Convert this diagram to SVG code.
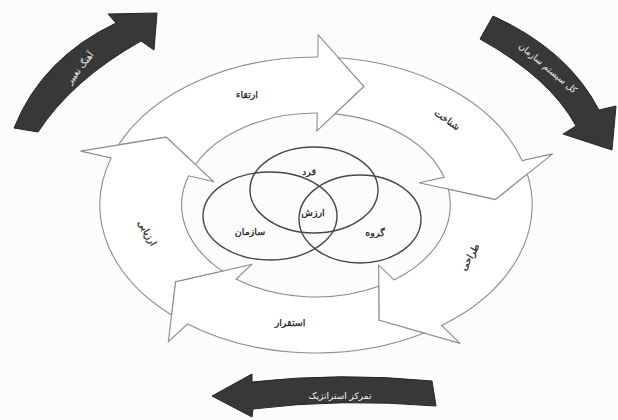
<svg xmlns="http://www.w3.org/2000/svg" width="618" height="420" viewBox="0 0 618 420">
<style>
.ring{fill:#fff;stroke:#8c8c8c;stroke-width:1.1;stroke-linejoin:miter}
.venn{fill:none;stroke:#474747;stroke-width:1.4}
.dark{fill:#383838;stroke:#262626;stroke-width:1}
.lbl{font-family:"DejaVu Sans","Noto Sans",sans-serif;font-size:9.5px;fill:#1a1a1a;text-anchor:middle;stroke:#1a1a1a;stroke-width:0.25}
.wlbl{font-family:"DejaVu Sans","Noto Sans",sans-serif;font-size:9px;fill:#f2f2f2;text-anchor:middle}
</style>
<rect width="618" height="420" fill="#fcfcfc"/>
<g id="connectors"/>
<g id="arrow-ertegha">
<path class="ring" d="M118.5,144.9 A216.08,148 0 0 1 317.9,57.0 L318.2,35.0 L364.0,86.5 L316.9,131.0 L317.2,113.0 A134.32,92 0 0 0 195.4,164.5 L166.2,137.1 Z"/>
<text class="lbl" x="247" y="98">ارتقاء</text>
</g>
<g id="arrow-shenakht">
<path class="ring" d="M338.4,57.8 A216.08,148 0 0 1 522.1,160.5 L552.7,153.9 L495.4,199.6 L419.0,182.7 L444.1,177.3 A134.32,92 0 0 0 335.0,113.9 L364.0,86.5 Z"/>
<text class="lbl" x="447" y="123" transform="rotate(35 447 120)">شناخت</text>
</g>
<g id="arrow-tarahi">
<path class="ring" d="M527.3,174.1 A216.08,148 0 0 1 441.5,325.5 L460.1,343.4 L378.9,320.2 L378.7,265.2 L394.0,279.9 A134.32,92 0 0 0 448.3,189.2 L495.4,199.6 Z"/>
<text class="lbl" x="470" y="260" transform="rotate(-60 470 257)">طراحی</text>
</g>
<g id="arrow-esteghrar">
<path class="ring" d="M424.2,333.1 A216.08,148 0 0 1 187.5,324.0 L168.4,341.7 L175.5,281.6 L251.7,264.5 L236.1,279.0 A134.32,92 0 0 0 378.8,286.3 L378.9,320.2 Z"/>
<text class="lbl" x="290" y="326">استقرار</text>
</g>
<g id="arrow-arzyabi">
<path class="ring" d="M171.5,315.0 A216.08,148 0 0 1 111.1,158.0 L80.6,151.1 L166.2,137.1 L213.5,181.5 L188.6,175.8 A134.32,92 0 0 0 222.4,271.0 L175.5,281.6 Z"/>
<text class="lbl" x="147" y="236" transform="rotate(60 147 233)">ارزیابی</text>
</g>
<g id="venn-fard">
<ellipse class="venn" cx="314" cy="190" rx="64" ry="43"/>
<text class="lbl" x="309" y="175">فرد</text>
</g>
<g id="venn-sazman">
<ellipse class="venn" cx="270" cy="216" rx="67" ry="44"/>
<text class="lbl" x="250" y="235">سازمان</text>
</g>
<g id="venn-gorooh">
<ellipse class="venn" cx="360" cy="219" rx="61" ry="44"/>
<text class="lbl" x="375" y="236">گروه</text>
</g>
<g id="center-arzesh">
<text class="lbl" x="313" y="216">ارزش</text>
</g>
<g id="dark-ahang">
<path class="dark" d="M14,128 Q42,58 116,23 L108,14 L157,13 L154,50 L141,41 Q72,80 38,132 Z"/>
<text class="wlbl" x="80" y="71" transform="rotate(-52 80 68)">آهنگ تغییر</text>
</g>
<g id="dark-kol">
<path class="dark" d="M493,16 Q568,50 599,110 L616,106 L612,150 L563,134 L576,126 Q550,78 480,39 Z"/>
<text class="wlbl" x="548" y="71" transform="rotate(40 548 68)">کل سیستم سازمان</text>
</g>
<g id="dark-tamarkoz">
<path class="dark" d="M432,381 Q340,372 252,382 L252,374 L212,396 L252,417 L253,409 Q340,398 436,406 Z"/>
<text class="wlbl" x="340" y="399">تمرکز استراتژیک</text>
</g>
</svg>
